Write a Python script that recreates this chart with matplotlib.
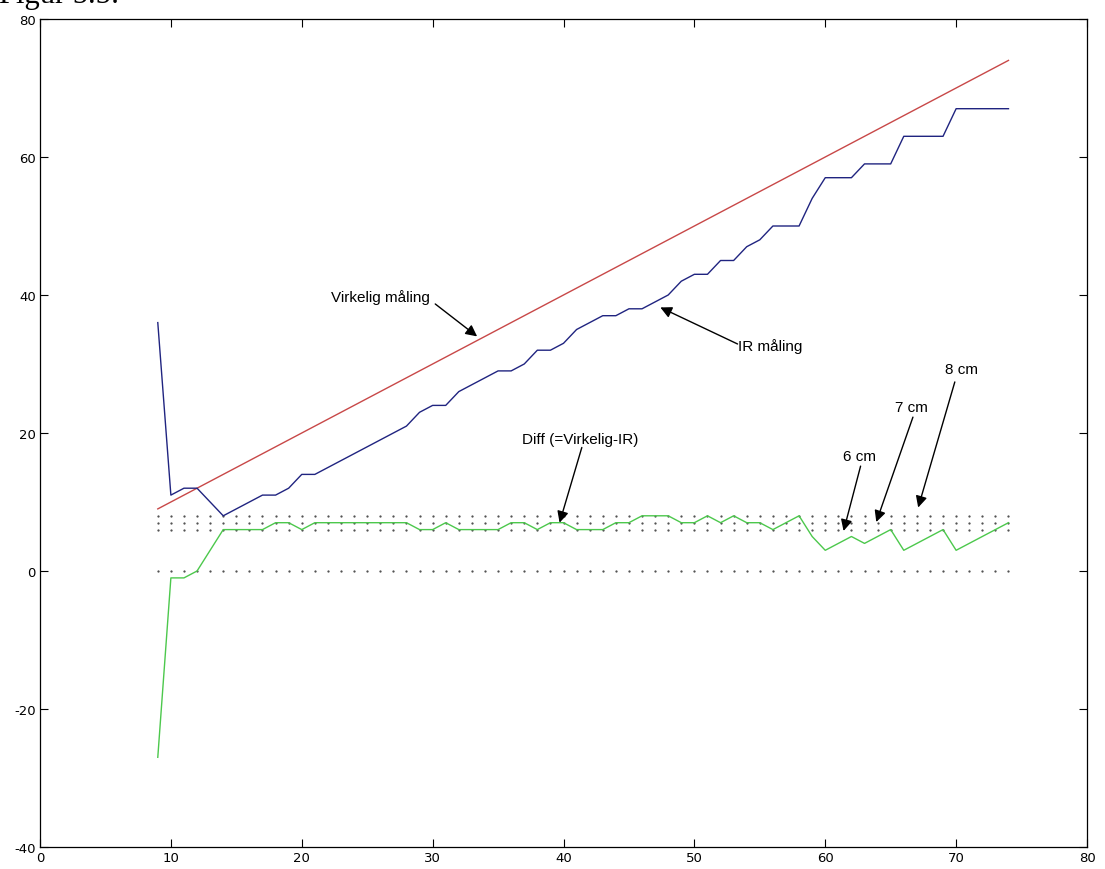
import matplotlib
matplotlib.use('Agg')
import matplotlib.pyplot as plt

plt.rcParams['axes.unicode_minus'] = False

# Distance (cm) along the x axis
dist = [9, 10, 11, 12, 13, 14, 15, 16, 17, 18, 19, 20, 21, 22, 23, 24, 25,
        26, 27, 28, 29, 30, 31, 32, 33, 34, 35, 36, 37, 38, 39, 40, 41, 42,
        43, 44, 45, 46, 47, 48, 49, 50, 51, 52, 53, 54, 55, 56, 57, 58, 59,
        60, 61, 62, 63, 64, 65, 66, 67, 68, 69, 70, 71, 72, 73, 74]

# Virkelig maling (true distance)
virkelig = [9, 10, 11, 12, 13, 14, 15, 16, 17, 18, 19, 20, 21, 22, 23, 24, 25,
            26, 27, 28, 29, 30, 31, 32, 33, 34, 35, 36, 37, 38, 39, 40, 41, 42,
            43, 44, 45, 46, 47, 48, 49, 50, 51, 52, 53, 54, 55, 56, 57, 58, 59,
            60, 61, 62, 63, 64, 65, 66, 67, 68, 69, 70, 71, 72, 73, 74]

# IR maling
ir = [36, 11, 12, 12, 10, 8, 9, 10, 11, 11, 12, 14, 14, 15, 16, 17, 18,
      19, 20, 21, 23, 24, 24, 26, 27, 28, 29, 29, 30, 32, 32, 33, 35, 36,
      37, 37, 38, 38, 39, 40, 42, 43, 43, 45, 45, 47, 48, 50, 50, 50, 54,
      57, 57, 57, 59, 59, 59, 63, 63, 63, 63, 67, 67, 67, 67, 67]

# Diff (=Virkelig-IR)
diff = [-27, -1, -1, 0, 3, 6, 6, 6, 6, 7, 7, 6, 7, 7, 7, 7, 7,
        7, 7, 7, 6, 6, 7, 6, 6, 6, 6, 7, 7, 6, 7, 7, 6, 6,
        6, 7, 7, 8, 8, 8, 7, 7, 8, 7, 8, 7, 7, 6, 7, 8, 5,
        3, 4, 5, 4, 5, 6, 3, 4, 5, 6, 3, 4, 5, 6, 7]

# dotted reference levels
ref_levels = [0, 6, 7, 8]

fig = plt.figure(figsize=(11.05, 8.7), dpi=100)
ax = fig.add_axes([40 / 1105, 1 - 848 / 870, 1047 / 1105, 828 / 870])

for lvl in ref_levels:
    ax.plot(dist, [lvl] * len(dist), linestyle='none', marker='.',
            markersize=1.2, color='#444444')

ax.plot(dist, virkelig, color='#c84848', lw=1.0)
ax.plot(dist, ir, color='#202480', lw=1.0)
ax.plot(dist, diff, color='#4cc84c', lw=1.0)

ax.set_xlim(0, 80)
ax.set_ylim(-40, 80)
ax.set_xticks(range(0, 81, 10))
ax.set_yticks(range(-40, 81, 20))
ax.tick_params(direction='in', length=6, top=True, right=True,
               labelsize=9.5, pad=3)
for lab in ax.get_xticklabels() + ax.get_yticklabels():
    lab.set_family(['Liberation Sans Narrow', 'DejaVu Sans'])
for s in ax.spines.values():
    s.set_linewidth(0.9)

arrow = dict(arrowstyle='-|>', color='k', lw=1.0, mutation_scale=17,
             shrinkA=0, shrinkB=0)
tfont = dict(fontsize=11, family=['Liberation Sans', 'DejaVu Sans'])

ax.annotate('', xy=(33.4, 34.0), xytext=(30.2, 38.7), arrowprops=arrow)
ax.text(22.2, 39.8, 'Virkelig måling', ha='left', va='center', **tfont)

ax.annotate('', xy=(47.4, 38.2), xytext=(53.3, 32.9), arrowprops=arrow)
ax.text(53.3, 32.7, 'IR måling', ha='left', va='center', **tfont)

ax.annotate('', xy=(39.7, 7.0), xytext=(41.4, 17.9), arrowprops=arrow)
ax.text(41.25, 19.1, 'Diff (=Virkelig-IR)', ha='center', va='center', **tfont)

ax.annotate('', xy=(61.4, 5.8), xytext=(62.7, 15.2), arrowprops=arrow)
ax.text(62.6, 16.7, '6 cm', ha='center', va='center', **tfont)

ax.annotate('', xy=(63.9, 7.1), xytext=(66.7, 22.3), arrowprops=arrow)
ax.text(66.6, 23.7, '7 cm', ha='center', va='center', **tfont)

ax.annotate('', xy=(67.1, 9.2), xytext=(69.9, 27.4), arrowprops=arrow)
ax.text(70.4, 29.3, '8 cm', ha='center', va='center', **tfont)

fig.text(-0.001, 1 - 3 / 870, 'Figur 5.5:', fontsize=22,
         family=['Liberation Serif', 'DejaVu Serif'], ha='left', va='baseline')

fig.savefig('out.png', dpi=100)
